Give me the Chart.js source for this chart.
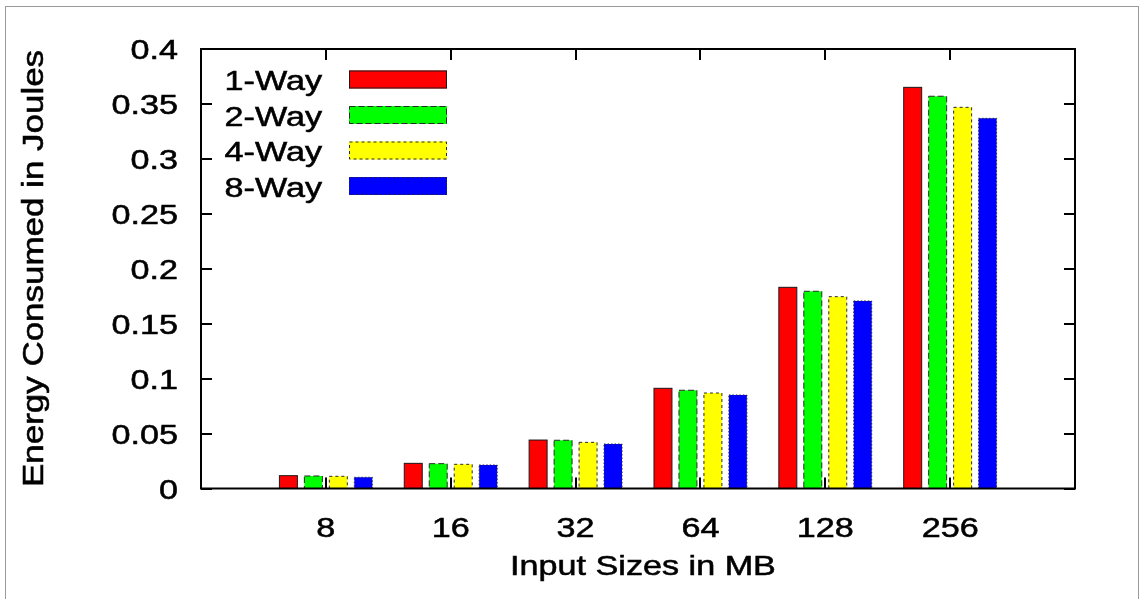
<!DOCTYPE html>
<html><head><meta charset="utf-8">
<script src="https://cdn.jsdelivr.net/npm/chart.js@4/dist/chart.umd.min.js"></script>
<style>html,body{margin:0;padding:0;background:#fff;overflow:hidden}#wrap{width:1140px;height:599px;position:relative}</style>
</head><body><div id="wrap"><canvas id="c" width="1140" height="599"></canvas></div>
<script>
// ---- data ----
const categories = ['8', '16', '32', '64', '128', '256'];
const seriesNames = ['1-Way', '2-Way', '4-Way', '8-Way'];
const oneWay   = [0.0117, 0.0229, 0.0441, 0.0912, 0.1831, 0.3651];
const twoWay   = [0.0114, 0.0226, 0.0439, 0.0894, 0.1795, 0.3570];
const fourWay  = [0.0111, 0.0220, 0.0420, 0.0869, 0.1746, 0.3469];
const eightWay = [0.0102, 0.0214, 0.0405, 0.0851, 0.1707, 0.3369];
const yTicks = [0, 0.05, 0.1, 0.15, 0.2, 0.25, 0.3, 0.35, 0.4];
const xTitle = 'Input Sizes in MB';
const yTitle = 'Energy Consumed in Joules';

// ---- styles ----
const fills = ['#ff0000', '#00ff00', '#ffff00', '#0000ff'];
const edges = ['#1a1a1a', '#2a2a2a', '#2a2a2a', '#2a2a2a'];
const dashes = [[], [6, 3], [3, 3], [1.5, 2]];
const FONT = '"Liberation Sans", Arial, Helvetica, sans-serif';
const SX = 1.22;

const seriesValues = [oneWay, twoWay, fourWay, eightWay];
const labels = [''].concat(categories, ['']);

function stext(ctx, str, x, y, size, sx, align, rot) {
  ctx.save();
  ctx.translate(x, y);
  if (rot) ctx.rotate(rot);
  ctx.scale(sx, 1);
  ctx.font = size + 'px ' + FONT;
  ctx.textAlign = align;
  ctx.textBaseline = 'alphabetic';
  ctx.fillStyle = '#000';
  ctx.strokeStyle = '#000';
  ctx.lineWidth = 0.55;
  ctx.setLineDash([]);
  ctx.fillText(str, 0, 0);
  ctx.strokeText(str, 0, 0);
  ctx.restore();
}

const gnuplotLook = {
  id: 'gnuplotLook',
  afterDatasetsDraw(chart) {
    const ctx = chart.ctx;
    ctx.save();
    ctx.lineWidth = 1;
    chart.data.datasets.forEach((ds, i) => {
      const meta = chart.getDatasetMeta(i);
      ctx.strokeStyle = edges[i];
      ctx.setLineDash(dashes[i]);
      meta.data.forEach((el, j) => {
        if (ds.data[j] == null) return;
        const p = el.getProps(['x', 'y', 'base', 'width'], true);
        ctx.strokeRect(p.x - p.width / 2, p.y, p.width, p.base - p.y);
      });
    });
    ctx.restore();
  },
  afterDraw(chart) {
    const ctx = chart.ctx;
    const a = chart.chartArea;
    const xs = chart.scales.x, ys = chart.scales.y;
    ctx.save();
    // outer light frame
    ctx.strokeStyle = '#9a9a9a';
    ctx.lineWidth = 1;
    ctx.strokeRect(5.5, 6.5, 1133, 700);
    // plot frame
    const L = Math.round(a.left), R = Math.round(a.right), T = Math.round(a.top), B = Math.round(a.bottom) - 0.5;
    ctx.strokeStyle = '#000';
    ctx.lineWidth = 2;
    ctx.strokeRect(L, T, R - L, B - T);
    // ticks (inward, mirrored)
    ctx.lineWidth = 2;
    const tl = 11;
    ctx.beginPath();
    yTicks.forEach(v => {
      const y = Math.round(ys.getPixelForValue(v));
      ctx.moveTo(L, y); ctx.lineTo(L + tl, y);
      ctx.moveTo(R, y); ctx.lineTo(R - tl, y);
    });
    categories.forEach((c, i) => {
      const x = Math.round(xs.getPixelForValue(i + 1));
      ctx.moveTo(x, B); ctx.lineTo(x, B - tl);
      ctx.moveTo(x, T); ctx.lineTo(x, T + tl);
    });
    ctx.stroke();
    // y tick labels
    yTicks.forEach(v => {
      const y = ys.getPixelForValue(v);
      stext(ctx, String(v), 178, y + 10, 28, SX, 'right');
    });
    // x tick labels
    categories.forEach((c, i) => {
      const x = xs.getPixelForValue(i + 1);
      stext(ctx, c, x, 536.5, 28, SX, 'center');
    });
    // axis titles
    stext(ctx, xTitle, 643, 575, 28, SX, 'center');
    stext(ctx, yTitle, 43, 268.5, 30, 1.165, 'center', -Math.PI / 2);
    // legend
    chart.data.datasets.forEach((ds, i) => {
      const c = 79.5 + i * 35.5;
      stext(ctx, ds.label, 322, c + 10.5, 28, SX, 'right');
      ctx.fillStyle = fills[i];
      ctx.fillRect(349, c - 9, 98, 18);
      ctx.strokeStyle = edges[i];
      ctx.lineWidth = 1;
      ctx.setLineDash(dashes[i]);
      ctx.strokeRect(349.5, c - 8.5, 97, 17);
      ctx.setLineDash([]);
    });
    ctx.restore();
  }
};

new Chart(document.getElementById('c'), {
  type: 'bar',
  data: {
    labels: labels,
    datasets: seriesNames.map((name, i) => ({
      label: name,
      data: [null].concat(seriesValues[i], [null]),
      backgroundColor: fills[i],
      borderWidth: 0,
      categoryPercentage: 0.8,
      barPercentage: 0.72
    }))
  },
  options: {
    responsive: false,
    animation: false,
    devicePixelRatio: 1,
    layout: { padding: { left: 201, right: 65, top: 49, bottom: 110.5 } },
    plugins: { legend: { display: false }, tooltip: { enabled: false } },
    scales: {
      x: { display: false, offset: false },
      y: { display: false, min: 0, max: 0.4, ticks: { stepSize: 0.05 } }
    }
  },
  plugins: [gnuplotLook]
});
</script>
</body></html>
